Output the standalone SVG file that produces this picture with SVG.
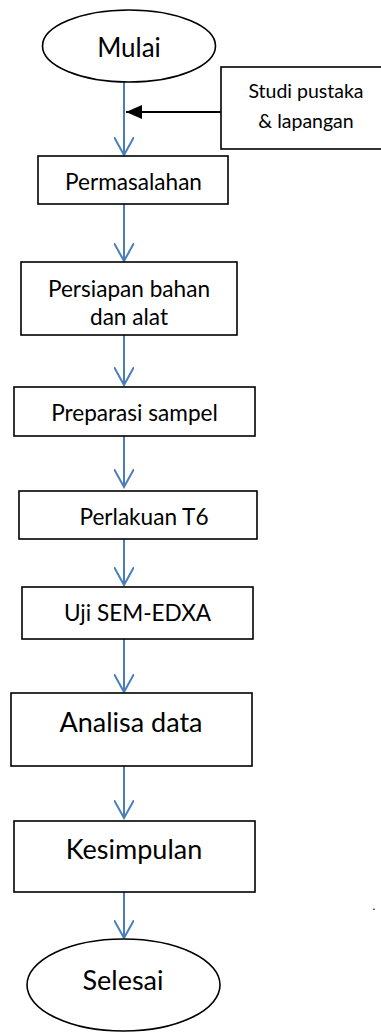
<svg xmlns="http://www.w3.org/2000/svg" width="381" height="1032" viewBox="0 0 381 1032">
<defs>
<marker id="vblue" viewBox="0 0 20 20" refX="18" refY="10" markerWidth="20" markerHeight="20" markerUnits="userSpaceOnUse" orient="auto">
<path d="M0,0 L18,10 L0,20" fill="none" stroke="#4a7ebb" stroke-width="2"/>
</marker>
<marker id="tri" viewBox="0 0 16 14" refX="16" refY="7" markerWidth="16" markerHeight="14" markerUnits="userSpaceOnUse" orient="auto">
<path d="M0,0 L16,7 L0,14 Z" fill="#000"/>
</marker>
</defs>
<style>
.box{fill:#fff;stroke:#000;stroke-width:1.6}
.t{font-family:Lato,"Liberation Sans",sans-serif;fill:#000;text-anchor:middle}
.c{stroke:#4a7ebb;stroke-width:2;fill:none}
</style>
<rect width="381" height="1032" fill="#fff"/>
<g id="connectors">
<line class="c" x1="124" y1="79" x2="124" y2="155" marker-end="url(#vblue)"/>
<line x1="221" y1="112" x2="126" y2="112" stroke="#000" stroke-width="2" marker-end="url(#tri)"/>
<line class="c" x1="124" y1="200" x2="124" y2="261" marker-end="url(#vblue)"/>
<line class="c" x1="124" y1="335" x2="124" y2="385" marker-end="url(#vblue)"/>
<line class="c" x1="124" y1="436" x2="124" y2="487" marker-end="url(#vblue)"/>
<line class="c" x1="124" y1="533" x2="124" y2="585" marker-end="url(#vblue)"/>
<line class="c" x1="124" y1="639" x2="124" y2="692" marker-end="url(#vblue)"/>
<line class="c" x1="124" y1="762" x2="124" y2="818" marker-end="url(#vblue)"/>
<line class="c" x1="124" y1="888" x2="124" y2="938" marker-end="url(#vblue)"/>
</g>
<g id="mulai">
<ellipse class="box" cx="129" cy="46" rx="86.5" ry="36"/>
<text class="t" x="129" y="57" font-size="26">Mulai</text>
</g>
<g id="studi">
<rect class="box" x="221" y="67" width="165" height="82"/>
<text class="t" x="306" y="98" font-size="19.5">Studi pustaka</text>
<text class="t" x="306" y="128" font-size="19.5">&amp; lapangan</text>
</g>
<g id="permasalahan">
<rect class="box" x="38" y="156" width="190" height="48"/>
<text class="t" x="133.5" y="190" font-size="22.6">Permasalahan</text>
</g>
<g id="persiapan">
<rect class="box" x="21" y="262" width="216" height="73"/>
<text class="t" x="129" y="297" font-size="22.6">Persiapan bahan</text>
<text class="t" x="129" y="325" font-size="22.6">dan alat</text>
</g>
<g id="preparasi">
<rect class="box" x="14" y="387" width="241" height="49"/>
<text class="t" x="134.5" y="421" font-size="22.6">Preparasi sampel</text>
</g>
<g id="perlakuan">
<rect class="box" x="19" y="491" width="238" height="48"/>
<text class="t" x="144" y="525" font-size="22.6">Perlakuan T6</text>
</g>
<g id="uji">
<rect class="box" x="22" y="587" width="231" height="52"/>
<text class="t" x="137.5" y="621" font-size="22.6">Uji SEM-EDXA</text>
</g>
<g id="analisa">
<rect class="box" x="11" y="693" width="241" height="73"/>
<text class="t" x="131" y="732" font-size="27">Analisa data</text>
</g>
<g id="kesimpulan">
<rect class="box" x="14" y="821" width="241" height="71"/>
<text class="t" x="134" y="859" font-size="27">Kesimpulan</text>
</g>
<g id="selesai">
<ellipse class="box" cx="123.5" cy="985" rx="96.5" ry="46"/>
<text class="t" x="123" y="990" font-size="27">Selesai</text>
</g>
<text class="t" x="374" y="910" font-size="12">.</text>
</svg>
